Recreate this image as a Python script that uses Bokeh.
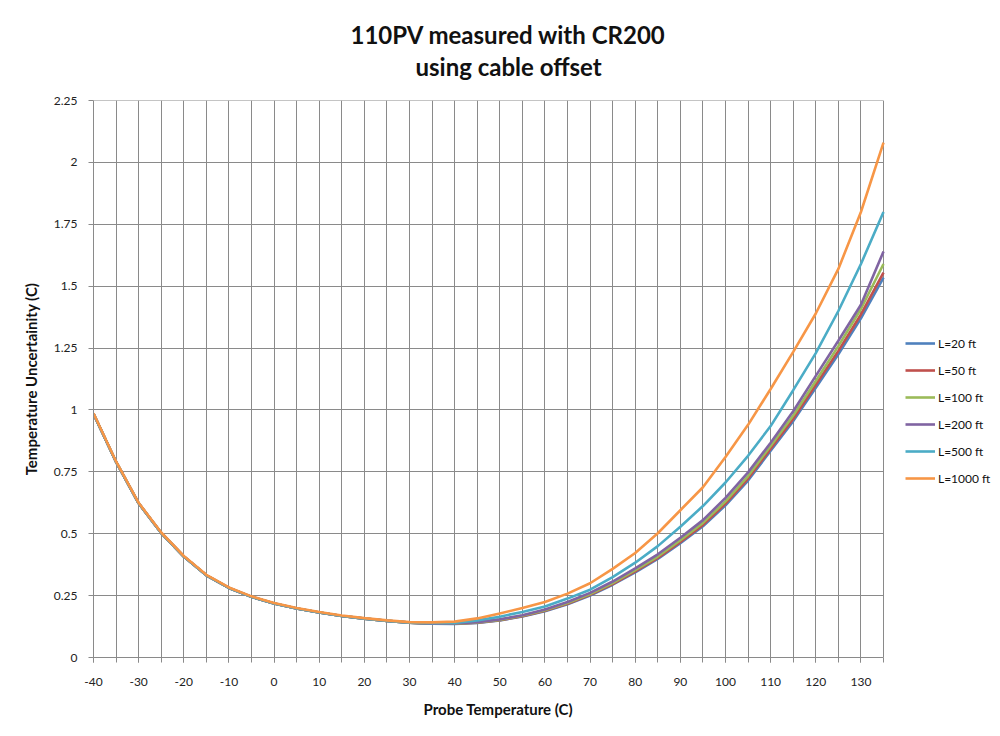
from bokeh.plotting import figure
from bokeh.models import Range1d, FixedTicker, Legend, LegendItem, Title, Grid
from bokeh.embed import file_html
from bokeh.resources import INLINE

# ---- data ----
temps = [-40, -35, -30, -25, -20, -15, -10, -5, 0, 5, 10, 15, 20, 25, 30, 35, 40, 45,
         50, 55, 60, 65, 70, 75, 80, 85, 90, 95, 100, 105, 110, 115, 120, 125, 130, 135]

unc_20ft = [0.985, 0.790, 0.623, 0.503, 0.408, 0.332, 0.281, 0.245, 0.218, 0.198, 0.182, 0.168,
            0.157, 0.148, 0.141, 0.137, 0.136, 0.140, 0.150, 0.166, 0.187, 0.215, 0.250, 0.294,
            0.344, 0.398, 0.462, 0.530, 0.615, 0.715, 0.835, 0.955, 1.090, 1.225, 1.370, 1.535]
unc_50ft = [0.985, 0.790, 0.623, 0.503, 0.408, 0.332, 0.281, 0.245, 0.218, 0.198, 0.182, 0.168,
            0.157, 0.148, 0.141, 0.137, 0.137, 0.141, 0.151, 0.167, 0.189, 0.217, 0.253, 0.297,
            0.348, 0.402, 0.467, 0.536, 0.622, 0.723, 0.844, 0.965, 1.102, 1.239, 1.386, 1.555]
unc_100ft = [0.985, 0.790, 0.623, 0.503, 0.408, 0.332, 0.281, 0.245, 0.218, 0.198, 0.182, 0.168,
             0.157, 0.148, 0.141, 0.137, 0.137, 0.142, 0.152, 0.169, 0.191, 0.220, 0.256, 0.301,
             0.353, 0.408, 0.474, 0.544, 0.631, 0.733, 0.855, 0.978, 1.117, 1.258, 1.408, 1.590]
unc_200ft = [0.985, 0.790, 0.623, 0.503, 0.408, 0.332, 0.281, 0.245, 0.218, 0.198, 0.182, 0.168,
             0.157, 0.148, 0.141, 0.137, 0.138, 0.143, 0.154, 0.171, 0.194, 0.224, 0.261, 0.307,
             0.360, 0.417, 0.484, 0.555, 0.645, 0.748, 0.868, 0.995, 1.138, 1.280, 1.425, 1.640]
unc_500ft = [0.985, 0.790, 0.623, 0.503, 0.408, 0.332, 0.281, 0.245, 0.218, 0.198, 0.182, 0.168,
             0.157, 0.148, 0.141, 0.139, 0.140, 0.150, 0.165, 0.184, 0.206, 0.238, 0.274, 0.325,
             0.383, 0.450, 0.528, 0.612, 0.707, 0.815, 0.935, 1.080, 1.230, 1.400, 1.590, 1.800]
unc_1000ft = [0.987, 0.792, 0.625, 0.505, 0.410, 0.334, 0.283, 0.247, 0.220, 0.200, 0.184, 0.170,
              0.159, 0.150, 0.143, 0.142, 0.145, 0.158, 0.178, 0.200, 0.224, 0.258, 0.300, 0.358,
              0.422, 0.502, 0.595, 0.688, 0.810, 0.940, 1.085, 1.235, 1.390, 1.570, 1.800, 2.080]

series_names = ["L=20 ft", "L=50 ft", "L=100 ft", "L=200 ft", "L=500 ft", "L=1000 ft"]
series_values = [unc_20ft, unc_50ft, unc_100ft, unc_200ft, unc_500ft, unc_1000ft]
series_colors = ["#4F81BD", "#C0504D", "#9BBB59", "#8064A2", "#4BACC6", "#F79646"]

x_ticks = [-40, -30, -20, -10, 0, 10, 20, 30, 40, 50, 60, 70, 80, 90, 100, 110, 120, 130]
x_tick_labels = ["-40", "-30", "-20", "-10", "0", "10", "20", "30", "40", "50", "60", "70",
                 "80", "90", "100", "110", "120", "130"]
x_minor_ticks = list(range(-40, 136, 5))
y_ticks = [0, 0.25, 0.5, 0.75, 1, 1.25, 1.5, 1.75, 2, 2.25]
y_tick_labels = ["0", "0.25", "0.5", "0.75", "1", "1.25", "1.5", "1.75", "2", "2.25"]
x_axis_min, x_axis_max = -40, 135
y_axis_min, y_axis_max = 0, 2.25

title_lines = ["110PV measured with CR200", "using cable offset"]
x_label = "Probe Temperature (C)"
y_label = "Temperature Uncertainity (C)"

FONT = "Lato"
GRID = "#8a8a8a"

# layout geometry (pixels)
W, H = 992, 728
LEFT, TOP, BOTTOM = 93, 100, 71
DATA_W = 790                     # width of the data area (-40 .. 135)
px_per_unit = DATA_W / (x_axis_max - x_axis_min)
frame_w = W - LEFT
x_view_end = x_axis_min + frame_w / px_per_unit   # extra room at the right holds the legend

p = figure(width=W, height=H, output_backend="svg", toolbar_location=None,
           x_range=Range1d(x_axis_min, x_view_end),
           y_range=Range1d(y_axis_min, y_axis_max + 0.0005),
           min_border_left=LEFT, min_border_right=0, min_border_top=TOP, min_border_bottom=BOTTOM)
p.outline_line_color = None
p.background_fill_color = "white"
p.border_fill_color = "white"

# title: two lines
p.title.text = title_lines[0]
p.title.align = "left"
p.title.offset = 257
p.title.standoff = -37
p.title.text_font = FONT
p.title.text_font_size = "24px"
p.title.text_font_style = "bold"
p.title.text_color = "#111111"
p.add_layout(Title(text=title_lines[1], align="left", offset=322, standoff=39,
                   text_font=FONT, text_font_size="24px", text_font_style="bold",
                   text_color="#111111"), "above")

# axes
p.xaxis.ticker = FixedTicker(ticks=x_ticks, minor_ticks=x_minor_ticks)
p.xaxis.major_label_overrides = dict(zip(x_ticks, x_tick_labels))
p.xaxis.bounds = (x_axis_min, x_axis_max)
p.yaxis.ticker = FixedTicker(ticks=y_ticks, minor_ticks=[])
p.yaxis.major_label_overrides = dict(zip(y_ticks, y_tick_labels))
p.yaxis.bounds = (y_axis_min, y_axis_max)
for ax in (p.xaxis, p.yaxis):
    ax.axis_line_color = GRID
    ax.major_tick_line_color = GRID
    ax.minor_tick_line_color = GRID
    ax.major_tick_in = 0
    ax.major_tick_out = 5
    ax.minor_tick_in = 0
    ax.minor_tick_out = 5
    ax.major_label_text_font = FONT
    ax.major_label_text_font_size = "12px"
    ax.major_label_text_color = "#222222"
    ax.axis_label_text_font = FONT
    ax.axis_label_text_font_size = "15px"
    ax.axis_label_text_font_style = "bold"
    ax.axis_label_text_color = "#111111"
p.xaxis.major_label_standoff = 15
p.yaxis.major_label_standoff = 11
p.yaxis.axis_label = y_label
p.yaxis.axis_label_standoff = 11

# x-axis title centred under the data area (not the whole frame)
p.add_layout(Title(text=x_label, align="left", offset=330, standoff=18,
                   text_font=FONT, text_font_size="15px", text_font_style="bold",
                   text_color="#111111"), "below")

# grids
p.xgrid.ticker = FixedTicker(ticks=x_minor_ticks)
p.ygrid.ticker = FixedTicker(ticks=y_ticks)
for g in (p.xgrid, p.ygrid):
    g.grid_line_color = GRID
    g.grid_line_width = 1
if "cross_bounds" in Grid.properties():
    p.ygrid.cross_bounds = (x_axis_min, x_axis_max)
    p.xgrid.cross_bounds = (y_axis_min, y_axis_max)
else:
    p.ygrid.grid_line_color = None
    p.segment(x0=[x_axis_min] * len(y_ticks), x1=[x_axis_max] * len(y_ticks),
              y0=y_ticks, y1=y_ticks, line_color=GRID, line_width=1)

# series
items = []
for name, vals, col in zip(series_names, series_values, series_colors):
    r = p.line(temps, vals, line_color=col, line_width=2.6)
    items.append(LegendItem(label=name, renderers=[r]))

legend = Legend(items=items, location=(812, 169), orientation="vertical",
                glyph_width=30, glyph_height=20, label_height=20, spacing=7,
                padding=0, margin=0, label_standoff=3,
                border_line_color=None, background_fill_alpha=0,
                label_text_font=FONT, label_text_font_size="12px", label_text_color="#111111")
p.add_layout(legend, "center")

open("out.html", "w").write(file_html(p, INLINE))
